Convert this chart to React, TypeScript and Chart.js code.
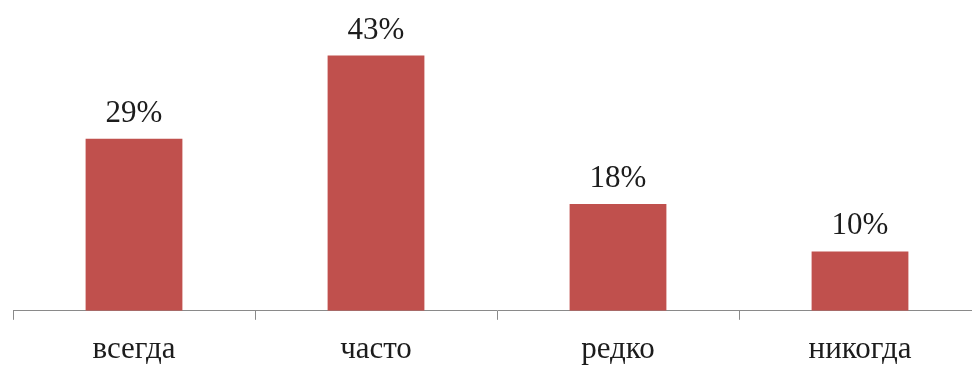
import { useEffect, useRef } from "react";
import { Chart, registerables } from "chart.js";

Chart.register(...registerables);

// Survey answers and their shares, in percent
const categories = ["всегда", "часто", "редко", "никогда"];
const shares = [29, 43, 18, 10];
const valueSuffix = "%";

const BAR_COLOR = "#C0504D";
const TEXT_COLOR = "#1c1c1c";
const AXIS_COLOR = "#8a8a8a";
const SERIF = '"Liberation Serif", "Times New Roman", serif';

// Writes each bar's value just above its top edge
const valueLabels = {
  id: "valueLabels",
  afterDatasetsDraw(chart: Chart) {
    const { ctx } = chart;
    const meta = chart.getDatasetMeta(0);
    const values = chart.data.datasets[0].data as number[];
    ctx.save();
    ctx.font = `31px ${SERIF}`;
    ctx.fillStyle = TEXT_COLOR;
    ctx.textAlign = "center";
    ctx.textBaseline = "alphabetic";
    meta.data.forEach((bar: any, i: number) => {
      ctx.fillText(`${values[i]}${valueSuffix}`, bar.x, bar.y - 17);
    });
    ctx.restore();
  },
};

export default function App() {
  const canvasRef = useRef<HTMLCanvasElement | null>(null);

  useEffect(() => {
    if (!canvasRef.current) return;
    const chart = new Chart(canvasRef.current, {
      type: "bar",
      data: {
        labels: categories,
        datasets: [
          {
            data: shares,
            backgroundColor: BAR_COLOR,
            borderWidth: 0,
            barPercentage: 0.4,
            categoryPercentage: 1,
          },
        ],
      },
      options: {
        animation: false,
        responsive: true,
        maintainAspectRatio: false,
        devicePixelRatio: 1,
        layout: { padding: { left: 13, right: 0, top: 14, bottom: 0 } },
        plugins: {
          legend: { display: false },
          tooltip: { enabled: false },
        },
        scales: {
          x: {
            offset: true,
            grid: {
              offset: true,
              drawOnChartArea: false,
              drawTicks: true,
              tickLength: 9,
              tickWidth: 1,
              tickColor: AXIS_COLOR,
              color: AXIS_COLOR,
            },
            border: { display: true, color: AXIS_COLOR, width: 1 },
            ticks: {
              color: TEXT_COLOR,
              padding: 11,
              maxRotation: 0,
              autoSkip: false,
              font: { family: SERIF, size: 31 },
            },
          },
          y: {
            display: false,
            min: 0,
            max: 50,
          },
        },
      },
      plugins: [valueLabels],
    });
    return () => chart.destroy();
  }, []);

  // The chart box runs slightly past the visible frame on the right and bottom
  return (
    <div
      style={{
        position: "fixed",
        left: 0,
        top: 0,
        width: 972,
        height: 367,
        overflow: "hidden",
        background: "#ffffff",
      }}
    >
      <div style={{ position: "relative", width: 981, height: 379 }}>
        <canvas ref={canvasRef} />
      </div>
    </div>
  );
}
